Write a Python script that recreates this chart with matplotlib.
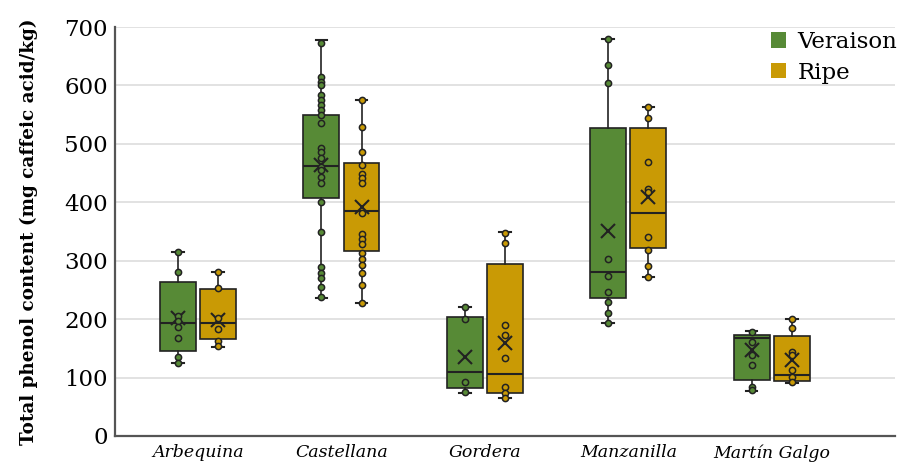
import numpy as np
import matplotlib.pyplot as plt

plt.rcParams['font.family'] = ['DejaVu Serif']

cultivars = ['Arbequina', 'Castellana', 'Gordera', 'Manzanilla', 'Martín Galgo']
stages = ['Veraison', 'Ripe']
colors = ['#578a36', '#c99a05']

# box summary per stage: whislo, q1, median, q3, whishi, mean
ver_whislo = [125, 236, 74, 193, 77]
ver_q1 = [145, 407, 82, 236, 96]
ver_med = [193, 462, 110, 281, 168]
ver_q3 = [264, 549, 204, 527, 173]
ver_whishi = [315, 678, 221, 679, 180]
ver_mean = [202, 464, 135, 351, 147]

ripe_whislo = [152, 228, 65, 272, 91]
ripe_q1 = [166, 317, 74, 322, 94]
ripe_med = [193, 385, 106, 382, 104]
ripe_q3 = [252, 467, 294, 527, 171]
ripe_whishi = [281, 575, 349, 563, 200]
ripe_mean = [199, 392, 159, 409, 130]

# individual samples
ver_points = [
    [315, 281, 205, 197, 187, 168, 135, 125],
    [673, 615, 606, 601, 584, 575, 567, 558, 549, 536, 493, 486, 476, 460,
     455, 443, 433, 400, 349, 289, 279, 270, 255, 238],
    [221, 200, 92, 75],
    [679, 635, 604, 303, 274, 246, 229, 211, 193],
    [178, 161, 139, 122, 84, 79],
]
ripe_points = [
    [281, 253, 202, 183, 163, 154],
    [575, 529, 486, 464, 448, 441, 433, 382, 346, 337, 329, 313, 303, 293,
     279, 258, 228],
    [347, 330, 190, 173, 134, 84, 74, 65],
    [563, 544, 469, 422, 418, 341, 319, 291, 272],
    [200, 185, 144, 139, 113, 101, 92],
]

fig = plt.figure(figsize=(9.03, 4.68), dpi=100)
ax = fig.add_axes([0.1274, 0.0684, 0.8638, 0.8739])

x = np.arange(len(cultivars))
offsets = [-0.14, 0.14]
summaries = [
    (ver_whislo, ver_q1, ver_med, ver_q3, ver_whishi, ver_mean, ver_points),
    (ripe_whislo, ripe_q1, ripe_med, ripe_q3, ripe_whishi, ripe_mean, ripe_points),
]

for k, (wlo, q1, med, q3, whi, mean, pts) in enumerate(summaries):
    stats = []
    for i in range(len(cultivars)):
        stats.append(dict(whislo=wlo[i], q1=q1[i], med=med[i], q3=q3[i],
                          whishi=whi[i], mean=mean[i], fliers=[]))
    ax.bxp(stats, positions=x + offsets[k], widths=0.25, patch_artist=True,
           showmeans=True, showfliers=False,
           boxprops=dict(facecolor=colors[k], edgecolor='#222222', linewidth=1.2),
           medianprops=dict(color='#222222', linewidth=1.5),
           whiskerprops=dict(color='#222222', linewidth=1.2),
           capprops=dict(color='#222222', linewidth=1.5),
           capwidths=0.08,
           meanprops=dict(marker='x', markersize=10, markeredgecolor='#222222',
                          markeredgewidth=1.5),
           zorder=2)
    for i in range(len(cultivars)):
        ax.scatter(np.full(len(pts[i]), x[i] + offsets[k]), pts[i], s=20,
                   facecolor=colors[k], edgecolor='#222222', linewidth=1.1,
                   zorder=3)

ax.set_xlim(-0.579, 4.86)
ax.set_ylim(0, 700)
ax.set_yticks(range(0, 701, 100))
ax.yaxis.grid(True, color='#dddddd', linewidth=1.2)
ax.set_axisbelow(True)
ax.set_xticks(x)
ax.set_xticklabels(cultivars, fontstyle='italic', fontsize=12.5)
ax.tick_params(axis='x', length=0, pad=6)
ax.tick_params(axis='y', length=0, labelsize=16.5, pad=5)
for s in ['top', 'right']:
    ax.spines[s].set_visible(False)
for s in ['left', 'bottom']:
    ax.spines[s].set_color('#555555')
    ax.spines[s].set_linewidth(1.6)
ax.set_ylabel('Total phenol content (mg caffeic acid/kg)', fontsize=13.2,
              fontweight='bold')
ax.yaxis.set_label_coords(-0.099, 0.5)

handles = [plt.Rectangle((0, 0), 1, 1, facecolor=c, edgecolor='none') for c in colors]
ax.legend(handles, stages, loc='upper right', bbox_to_anchor=(1.003, 0.99),
          frameon=False, fontsize=16.5, handlelength=0.65, handleheight=0.65,
          handletextpad=0.5, labelspacing=0.37, borderaxespad=0, borderpad=0)

fig.savefig('out.png', dpi=100)
